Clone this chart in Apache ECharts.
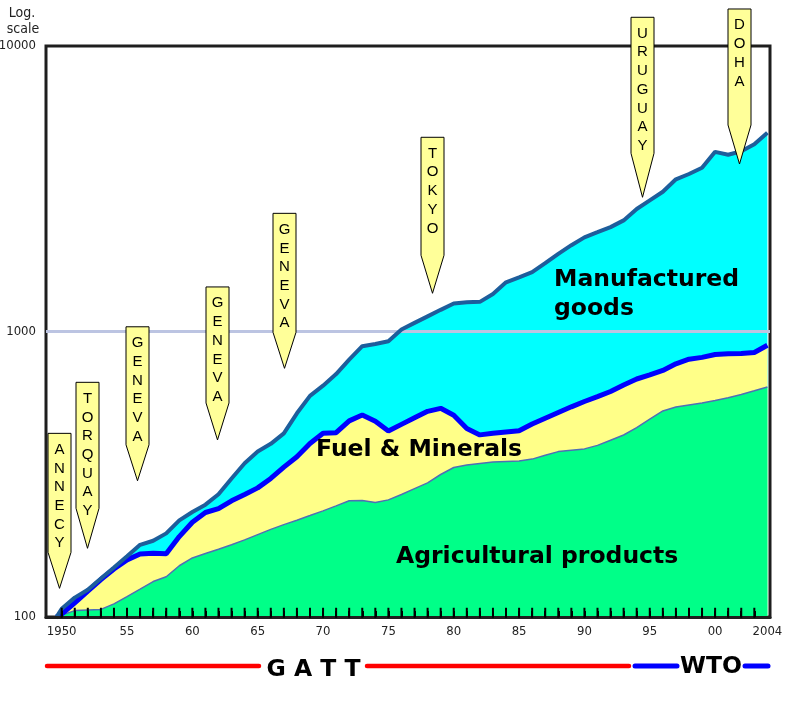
<!DOCTYPE html>
<html><head><meta charset="utf-8">
<script src="https://cdn.jsdelivr.net/npm/echarts@6/dist/echarts.min.js"></script>
<style>html,body{margin:0;padding:0;background:#fff}#c{width:804px;height:706px}</style>
</head><body><div id="c"></div>
<script>
// ---- data ----
const years = [1949.6,1950,1951,1952,1953,1954,1955,1956,1957,1958,1959,1960,1961,1962,1963,1964,1965,1966,1967,1968,1969,1970,1971,1972,1973,1974,1975,1976,1977,1978,1979,1980,1981,1982,1983,1984,1985,1986,1987,1988,1989,1990,1991,1992,1993,1994,1995,1996,1997,1998,1999,2000,2001,2002,2003,2004];
// top of Manufactured goods band = total
const totalTop = [100,106.8,116.9,124.6,136.4,149.1,163.1,179.0,185.0,196.3,218.0,233.3,247.4,269.2,305.6,345.4,380.2,404.1,439.6,516.9,594.9,646.0,709.2,796.6,888.4,904.3,924.9,1016,1072,1130,1191,1253,1266,1270,1353,1487,1548,1613,1735,1871,2006,2137,2227,2321,2450,2686,2879,3086,3413,3562,3744,4259,4161,4280,4525,4971];
// top of Fuel & Minerals band
const fuelTop = [100,102.4,112.1,123.3,135.3,147.3,158.5,166.3,167.3,166.5,191.3,214.8,232.3,239.7,255.3,268.6,283.3,305.6,335.0,364.3,405.1,440.0,442.1,486.3,509.9,485.1,448.2,472.8,498.5,525.3,538.2,509.1,457.4,434.4,440.4,445.0,449.0,473.9,496.9,520.3,544.7,568.6,591.1,616.4,649.6,681.8,704.7,730.7,770.7,799.8,811.5,830.7,835.4,837.4,844.2,894.8];
// top of Agricultural products band
const agriTop = [100,101.5,105.3,105.8,106.3,111.2,117.9,125.2,133.1,138.4,151.2,161.0,166.8,172.7,179.2,186.3,194.3,202.7,210.6,218.3,226.6,235.3,245.0,255.3,256.1,251.8,257.2,268.6,281.5,294.9,315.6,333.9,340.7,344.9,349.1,350.5,351.9,357.3,368.7,379.6,383.9,388.0,399.1,416.2,434.0,460.7,493.7,527.0,543.9,552.7,561.7,573.6,585.9,601.6,619.8,639.2];

const xLabelValues = [1950,1955,1960,1965,1970,1975,1980,1985,1990,1995,2000,2004];
const xLabelText = ['1950','55','60','65','70','75','80','85','90','95','00','2004'];
const tickYears = [1950,1951,1952,1953,1954,1955,1956,1957,1958,1959,1960,1961,1962,1963,1964,1965,1966,1967,1968,1969,1970,1971,1972,1973,1974,1975,1976,1977,1978,1979,1980,1981,1982,1983,1984,1985,1986,1987,1988,1989,1990,1991,1992,1993,1994,1995,1996,1997,1998,1999,2000,2001,2002,2003];
const yMin = 100, yMax = 10000;
const tickBase = 101; // just above the frame's bottom edge

const rounds = ['ANNECY','TORQUAY','GENEVA','GENEVA','GENEVA','TOKYO','URUGUAY','DOHA'];
const roundTipYear = [1949.8,1951.9,1955.8,1961.9,1967.0,1978.3,1994.4,2001.8];
const roundTipValue = [126,174,300,417,743,1361,2952,3861];

const areaLabels = [['Manufactured','goods'],['Fuel & Minerals'],['Agricultural products']];
const eraLabels = ['G A T T','WTO'];

// ---- styles ----
const pennantRectH = [119,126,118,116,119,118,136,116];
const pennantTaper = [36,40,36,37,36,38,44,39];
const NARROW = "'Liberation Sans Narrow','DejaVu Sans Condensed','Liberation Sans',Arial,sans-serif";
const BOLD = "'DejaVu Sans',Verdana,sans-serif";

const pair = arr => years.map((y,i)=>[y,arr[i]]);
const labelMap = {};
xLabelValues.forEach((v,i)=>labelMap[v]=xLabelText[i]);

const chart = echarts.init(document.getElementById('c'));
chart.setOption({
  animation:false,
  grid:{left:46,right:34,top:46,bottom:89,containLabel:false,outerBoundsMode:'none',show:true,borderColor:'#1e1e1e',borderWidth:3,backgroundColor:'transparent'},
  xAxis:{type:'value',min:1948.8,max:2004.2,z:20,
    axisLine:{show:true,lineStyle:{color:'#1e1e1e',width:3}},
    splitLine:{show:false},
    axisTick:{show:true,inside:true,length:6,customValues:tickYears,lineStyle:{color:'#000',width:2}},
    axisLabel:{customValues:xLabelValues,formatter:v=>labelMap[Math.round(v)]||'',fontFamily:NARROW,fontSize:13,color:'#222',margin:8}
  },
  yAxis:{type:'log',logBase:10,min:yMin,max:yMax,
    axisLine:{show:false},axisTick:{show:false},splitLine:{show:false},
    axisLabel:{formatter:v=>String(Math.round(v)),fontFamily:NARROW,fontSize:13,color:'#222',margin:10}
  },
  series:[
    {type:'line',data:pair(totalTop),symbol:'none',lineStyle:{width:0,opacity:0},areaStyle:{color:'#00ffff',opacity:1,origin:'start'},z:1,
      markLine:{silent:true,symbol:'none',label:{show:false},lineStyle:{color:'#bcc4e2',width:3,type:'solid'},data:[{yAxis:1000}]}},
    {type:'line',data:pair(fuelTop),symbol:'none',lineStyle:{width:0,opacity:0},areaStyle:{color:'#ffff88',opacity:1,origin:'start'},z:2},
    {type:'line',data:pair(agriTop),symbol:'none',lineStyle:{width:0,opacity:0},areaStyle:{color:'#00ff88',opacity:1,origin:'start'},z:3},
    {type:'line',data:pair(agriTop),symbol:'none',lineStyle:{color:'#4f6fb5',width:1.5},z:4},
    {type:'line',data:pair(fuelTop),symbol:'none',lineStyle:{color:'#0000ff',width:5},z:5},
    {type:'line',data:pair(totalTop),symbol:'none',lineStyle:{color:'#1d5e9c',width:4},z:6},
    // year ticks standing on the bottom frame
    {type:'scatter',data:tickYears.map(y=>[y,tickBase]),symbol:'rect',symbolSize:[2,10],symbolOffset:[0,-3],clip:false,silent:true,
      itemStyle:{color:'#000',opacity:1},z:30}
  ]
});

const g = [];
rounds.forEach((name,i)=>{
  const p = chart.convertToPixel({gridIndex:0},[roundTipYear[i],roundTipValue[i]]);
  const px = Math.round(p[0])+0.5, py = p[1];
  const hw = 11.5, t = pennantTaper[i], h = pennantRectH[i];
  const top = py-t-h;
  g.push({type:'polygon',z:100,shape:{points:[[px-hw,top],[px+hw,top],[px+hw,py-t],[px,py],[px-hw,py-t]]},
    style:{fill:'#ffff99',stroke:'#000',lineWidth:1}});
  g.push({type:'text',z:101,x:px,y:top+7,style:{text:name.split('').join('\n'),font:"15px 'Liberation Sans',Arial,sans-serif",fill:'#000',align:'center',verticalAlign:'top',lineHeight:18.7}});
});
const txt = (s,x,y,align,size)=>({type:'text',z:110,x:x,y:y,style:{text:s,font:'bold '+(size||23.5)+'px '+BOLD,fill:'#000',align:align||'left',verticalAlign:'middle'}});
g.push(txt(areaLabels[0][0],554,279.7));
g.push(txt(areaLabels[0][1],554,309));
g.push(txt(areaLabels[1][0],316,450.3));
g.push(txt(areaLabels[2][0],396,557));
g.push({type:'text',z:110,x:22,y:13,style:{text:'Log.',font:'14px '+NARROW,fill:'#222',align:'center',verticalAlign:'middle'}});
g.push({type:'text',z:110,x:23,y:29,style:{text:'scale',font:'14px '+NARROW,fill:'#222',align:'center',verticalAlign:'middle'}});
const seg = (x1,x2,y,c,w)=>({type:'line',z:110,shape:{x1:x1,y1:y,x2:x2,y2:y},style:{stroke:c,lineWidth:w,lineCap:'round'}});
g.push(seg(47,259,666,'#ff0000',4.5));
g.push(seg(367,629,666,'#ff0000',4.5));
g.push(seg(635,677,666,'#0000ff',5));
g.push(seg(745,768,666,'#0000ff',5));
g.push(txt(eraLabels[0],313.5,669.7,'center'));
g.push(txt(eraLabels[1],711,667,'center'));
chart.setOption({graphic:g});
</script>
</body></html>
